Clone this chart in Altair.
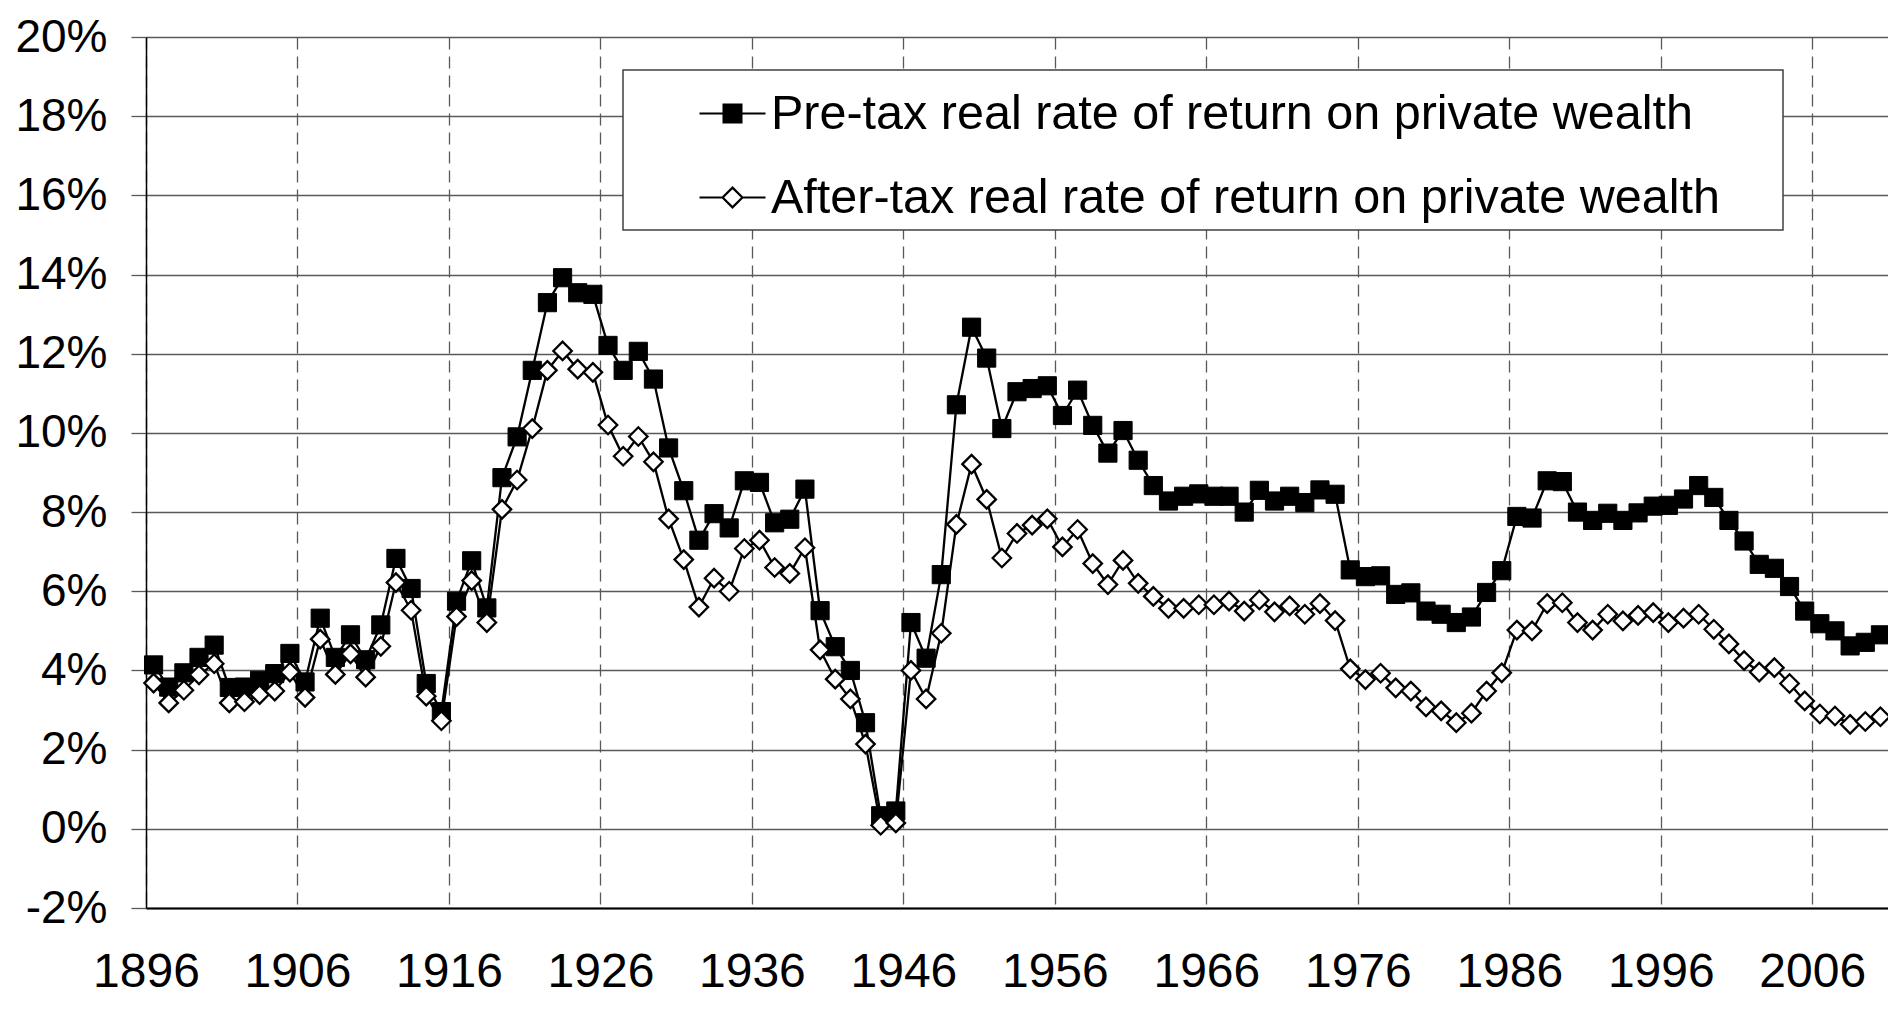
import altair as alt
import pandas as pd

FONT = "Liberation Sans"

years = list(range(1896, 2011))

pre_tax = [
    4.14, 3.58, 3.94, 4.33, 4.64, 3.57, 3.58, 3.75, 3.92, 4.43,   # 1896-1905
    3.71, 5.32, 4.33, 4.90, 4.27, 5.15, 6.83, 6.07, 3.67, 2.96,   # 1906-1915
    5.75, 6.77, 5.58, 8.87, 9.90, 11.58, 13.29, 13.92, 13.54, 13.50,  # 1916-1925
    12.21, 11.58, 12.06, 11.36, 9.62, 8.54, 7.29, 7.96, 7.60, 8.79,   # 1926-1935
    8.75, 7.73, 7.82, 8.58, 5.51, 4.60, 4.00, 2.68, 0.33, 0.45,   # 1936-1945
    5.21, 4.31, 6.42, 10.71, 12.67, 11.89, 10.11, 11.04, 11.12, 11.19,  # 1946-1955
    10.44, 11.08, 10.19, 9.49, 10.06, 9.31, 8.67, 8.28, 8.40, 8.46,  # 1956-1965
    8.40, 8.40, 8.00, 8.55, 8.28, 8.40, 8.24, 8.56, 8.45, 6.54,   # 1966-1975
    6.37, 6.39, 5.92, 5.96, 5.50, 5.42, 5.21, 5.35, 5.97, 6.52,   # 1976-1985
    7.89, 7.85, 8.79, 8.77, 8.00, 7.79, 7.97, 7.79, 7.98, 8.15,   # 1986-1995
    8.17, 8.33, 8.67, 8.37, 7.79, 7.27, 6.68, 6.58, 6.12, 5.50,   # 1996-2005
    5.18, 5.00, 4.62, 4.71, 4.90,                                 # 2006-2010
]

after_tax = [
    3.68, 3.18, 3.50, 3.89, 4.17, 3.18, 3.21, 3.39, 3.48, 3.96,   # 1896-1905
    3.32, 4.79, 3.90, 4.42, 3.83, 4.61, 6.22, 5.52, 3.35, 2.73,   # 1906-1915
    5.36, 6.27, 5.21, 8.07, 8.81, 10.11, 11.58, 12.07, 11.61, 11.53,  # 1916-1925
    10.20, 9.41, 9.91, 9.27, 7.83, 6.80, 5.60, 6.33, 6.00, 7.08,  # 1926-1935
    7.29, 6.60, 6.45, 7.10, 4.52, 3.78, 3.28, 2.14, 0.09, 0.15,   # 1936-1945
    4.00, 3.28, 4.94, 7.69, 9.21, 8.32, 6.84, 7.46, 7.67, 7.83,   # 1946-1955
    7.12, 7.56, 6.70, 6.17, 6.78, 6.20, 5.87, 5.57, 5.57, 5.66,   # 1956-1965
    5.66, 5.75, 5.50, 5.78, 5.48, 5.63, 5.42, 5.69, 5.26, 4.04,   # 1966-1975
    3.77, 3.93, 3.56, 3.48, 3.08, 2.98, 2.68, 2.92, 3.48, 3.94,   # 1976-1985
    5.02, 5.00, 5.69, 5.71, 5.21, 5.02, 5.42, 5.25, 5.39, 5.46,   # 1986-1995
    5.21, 5.32, 5.42, 5.04, 4.67, 4.25, 3.96, 4.07, 3.67, 3.23,   # 1996-2005
    2.90, 2.85, 2.64, 2.71, 2.83,                                 # 2006-2010
]

series_names = [
    "Pre-tax real rate of return on private wealth",
    "After-tax real rate of return on private wealth",
]

x_tick_values = list(range(1896, 2007, 10))
y_tick_values = list(range(-2, 21, 2))

df = pd.DataFrame({
    "year": years + years,
    "value": pre_tax + after_tax,
    "series": [series_names[0]] * len(years) + [series_names[1]] * len(years),
})

GRID = "#595959"

x_enc = alt.X(
    "xpos:Q",
    scale=alt.Scale(domain=[1896, 2011], nice=False, zero=False),
    axis=alt.Axis(
        values=x_tick_values, format="d", title=None,
        grid=True, gridColor=GRID, gridWidth=1.3, gridDash=[12, 7],
        ticks=False, tickSize=0,
        domain=True, domainColor="black", domainWidth=2,
        labelFont=FONT, labelFontSize=48, labelColor="black",
        labelPadding=64, labelBaseline="middle",
        labelFlush=False, labelOverlap=False,
    ),
)
y_enc = alt.Y(
    "value:Q",
    scale=alt.Scale(domain=[-2, 20], nice=False, zero=False),
    axis=alt.Axis(
        values=y_tick_values, labelExpr="datum.value + '%'", title=None,
        grid=True, gridColor=GRID, gridWidth=1.3,
        ticks=True, tickSize=15, tickColor=GRID, tickWidth=1.3,
        domain=True, domainColor="black", domainWidth=1.5,
        labelFont=FONT, labelFontSize=46, labelColor="black",
        labelPadding=24, labelFlush=False, labelOverlap=False,
    ),
)

base = alt.Chart(df).transform_calculate(xpos="datum.year + 0.5")

pre_line = base.transform_filter(alt.datum.series == series_names[0]).mark_line(
    color="black", strokeWidth=2.3
).encode(x=x_enc, y=y_enc)

pre_pts = base.transform_filter(alt.datum.series == series_names[0]).mark_point(
    shape="square", size=330, filled=True, fill="black", stroke="black",
    strokeWidth=1, opacity=1
).encode(x=x_enc, y=y_enc)

after_line = base.transform_filter(alt.datum.series == series_names[1]).mark_line(
    color="black", strokeWidth=2.3
).encode(x=x_enc, y=y_enc)

after_pts = base.transform_filter(alt.datum.series == series_names[1]).mark_point(
    shape="diamond", size=340, filled=False, fill="white", stroke="black",
    strokeWidth=2.3, opacity=1
).encode(x=x_enc, y=y_enc)

# legend box
box = alt.Chart(pd.DataFrame({"k": [0]})).mark_rect(
    fill="white", stroke="#404040", strokeWidth=1.5
).encode(
    x=alt.value(477), x2=alt.value(1637), y=alt.value(33), y2=alt.value(193)
)

sym_pre = "M-1,0H1M-0.27,-0.27H0.27V0.27H-0.27Z"
sym_after = "M-1,0H-0.3M0.3,0H1M0,-0.3L0.3,0L0,0.3L-0.3,0Z"

leg_kw = dict(
    title=None, orient="none", legendX=552, legendY=42,
    labelFont=FONT, labelFontSize=48.5, labelColor="black", labelLimit=3000,
    labelOffset=4, rowPadding=25, padding=0, symbolSize=4356,
    symbolStrokeWidth=2.2, symbolStrokeColor="black", symbolOpacity=1,
    labelBaseline="middle",
)

legend_layer = alt.Chart(pd.DataFrame({"series": series_names})).mark_point(
    clip=True, size=4356, strokeWidth=2.2, opacity=1, filled=False
).encode(
    x=alt.value(-3000), y=alt.value(-3000),
    shape=alt.Shape("series:N", scale=alt.Scale(domain=series_names, range=[sym_pre, sym_after]),
                    legend=alt.Legend(**leg_kw)),
    fill=alt.Fill("series:N", scale=alt.Scale(domain=series_names, range=["black", "white"]),
                  legend=alt.Legend(**leg_kw)),
    stroke=alt.Stroke("series:N", scale=alt.Scale(domain=series_names, range=["black", "black"]),
                      legend=alt.Legend(**leg_kw)),
)

chart = alt.layer(box, pre_line, pre_pts, after_line, after_pts, legend_layer).properties(
    width=1742, height=871,
    autosize=alt.AutoSizeParams(type="none"),
    padding={"left": 138, "top": 29, "right": 0, "bottom": 90},
    background="white",
).configure_view(
    stroke="#777777", strokeWidth=1.3
).configure(font=FONT)

chart.save("out.html", embed_options={"renderer": "svg", "actions": False})
